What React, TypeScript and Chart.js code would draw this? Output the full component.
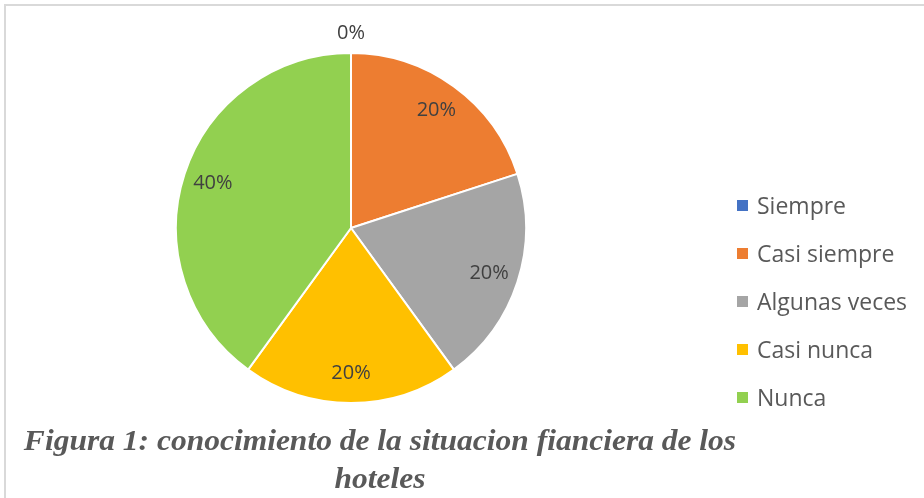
import React, { useEffect, useRef } from "react";
import { Chart, registerables } from "chart.js";

Chart.register(...registerables);

const categories = ["Siempre", "Casi siempre", "Algunas veces", "Casi nunca", "Nunca"];
const values = [0, 20, 20, 20, 40];
const colors = ["#4472C4", "#ED7D31", "#A5A5A5", "#FFC000", "#92D050"];
const captionLines = [
  "Figura 1: conocimiento de la situacion fianciera de los",
  "hoteles",
];

const labelPlugin = {
  id: "pctLabels",
  afterDatasetsDraw(chart: any) {
    const ctx = chart.ctx;
    const meta = chart.getDatasetMeta(0);
    const data = chart.data.datasets[0].data as number[];
    const total = data.reduce((a, b) => a + b, 0);
    ctx.save();
    ctx.font = "20px 'Open Sans'";
    ctx.fillStyle = "#404040";
    ctx.textAlign = "center";
    ctx.textBaseline = "middle";
    meta.data.forEach((arc: any, i: number) => {
      const p = arc.getProps(["x", "y", "startAngle", "endAngle", "outerRadius"], true);
      const mid = (p.startAngle + p.endAngle) / 2;
      const r = data[i] === 0 ? p.outerRadius + 20 : p.outerRadius * 0.83;
      const x = p.x + Math.cos(mid) * r;
      const y = p.y + Math.sin(mid) * r;
      const pct = Math.round((data[i] / total) * 100) + "%";
      ctx.fillText(pct, x, y);
    });
    ctx.restore();
  },
};

export default function App() {
  const ref = useRef<HTMLCanvasElement>(null);
  useEffect(() => {
    if (!ref.current) return;
    const chart = new Chart(ref.current, {
      type: "pie",
      data: {
        labels: categories,
        datasets: [
          {
            data: values,
            backgroundColor: colors,
            borderColor: "#ffffff",
            borderWidth: 2,
          },
        ],
      },
      options: {
        animation: false,
        responsive: false,
        devicePixelRatio: 1,
        layout: { padding: { left: 175, top: 52, right: 397, bottom: 94 } },
        plugins: {
          legend: { display: false },
          tooltip: { enabled: false },
        },
      },
      plugins: [labelPlugin],
    });
    return () => chart.destroy();
  }, []);

  return (
    <div
      style={{
        position: "absolute",
        left: 0,
        top: 0,
        width: 924,
        height: 498,
        overflow: "hidden",
        background: "#ffffff",
      }}
    >
      <div
        style={{
          position: "absolute",
          left: 4,
          top: 4,
          width: 940,
          height: 520,
          borderLeft: "2px solid #d9d9d9",
          borderTop: "2px solid #d9d9d9",
        }}
      />
      <canvas
        ref={ref}
        width={924}
        height={498}
        style={{ position: "absolute", left: 0, top: 0, width: 924, height: 498 }}
      />
      {categories.map((c, i) => (
        <div
          key={c}
          style={{
            position: "absolute",
            left: 737,
            top: 205 + i * 48 - 16,
            height: 32,
            display: "flex",
            alignItems: "center",
            fontFamily: "'Open Sans', sans-serif",
            fontSize: 23,
            color: "#595959",
            whiteSpace: "nowrap",
          }}
        >
          <span
            style={{
              display: "inline-block",
              width: 11,
              height: 11,
              background: colors[i],
              marginRight: 9,
            }}
          />
          <span>{c}</span>
        </div>
      ))}
      {captionLines.map((t, i) => (
        <div
          key={i}
          style={{
            position: "absolute",
            left: 380 - 500,
            width: 1000,
            top: 422 + i * 38,
            lineHeight: "36px",
            textAlign: "center",
            fontFamily: "'Liberation Serif', serif",
            fontWeight: "bold",
            fontStyle: "italic",
            fontSize: 30,
            color: "#595959",
            whiteSpace: "nowrap",
            transform: "scaleX(1.05)",
          }}
        >
          {t}
        </div>
      ))}
    </div>
  );
}
